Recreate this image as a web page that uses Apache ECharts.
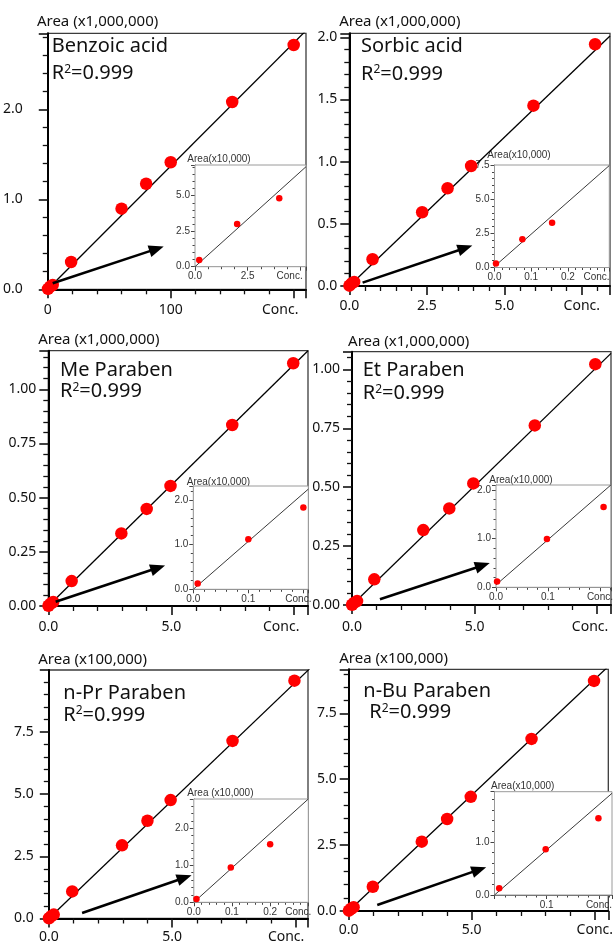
<!DOCTYPE html>
<html><head><meta charset="utf-8">
<script src="https://cdn.jsdelivr.net/npm/echarts@6/dist/echarts.min.js"></script>
<style>html,body{margin:0;padding:0;background:#fff}#c{width:616px;height:944px}</style>
</head><body><div id="c"></div>
<script>
// ---------------- DATA ----------------
const panelNames = ['Benzoic acid', 'Sorbic acid', 'Me Paraben', 'Et Paraben', 'n-Pr Paraben', 'n-Bu Paraben'];
const r2Values = ['0.999', '0.999', '0.999', '0.999', '0.999', '0.999'];
const mainYNames = ['Area (x1,000,000)', 'Area (x1,000,000)', 'Area (x1,000,000)', 'Area (x1,000,000)', 'Area (x100,000)', 'Area (x100,000)'];
const insetYNames = ['Area(x10,000)', 'Area(x10,000)', 'Area(x10,000)', 'Area(x10,000)', 'Area (x10,000)', 'Area(x10,000)'];
const lastXLabel = 'Conc.';

// main calibration points [conc, area]
const benzoicPoints = [[0.2,0.0047],[2,0.030],[4,0.048],[19,0.303],[60,0.896],[80,1.173],[100,1.411],[150,2.081],[200,2.714]];
const sorbicPoints = [[0.004,0.003],[0.076,0.0206],[0.157,0.0328],[0.75,0.215],[2.35,0.593],[3.17,0.786],[3.93,0.965],[5.94,1.450],[7.93,1.944]];
const meParabenPoints = [[0.008,0.0013],[0.1,0.0112],[0.2,0.0183],[0.95,0.115],[2.97,0.335],[4.0,0.448],[4.97,0.554],[7.48,0.835],[9.96,1.120]];
const etParabenPoints = [[0.002,0.0012],[0.098,0.0099],[0.207,0.0165],[0.91,0.109],[2.91,0.318],[3.97,0.410],[4.95,0.516],[7.46,0.762],[9.93,1.022]];
const prParabenPoints = [[0.007,0.009],[0.097,0.094],[0.2,0.157],[0.95,1.09],[2.97,2.94],[4.0,3.93],[4.94,4.76],[7.45,7.14],[9.96,9.56]];
const buParabenPoints = [[0.009,0.0125],[0.098,0.086],[0.199,0.144],[0.98,0.92],[2.97,2.63],[4.0,3.49],[4.96,4.33],[7.43,6.53],[9.97,8.73]];

// inset (low range) points [conc, area x10,000]
const benzoicInset = [[0.2,0.47],[2,3.0],[4,4.82]];
const sorbicInset = [[0.004,0.3],[0.076,2.06],[0.157,3.28]];
const meParabenInset = [[0.008,0.13],[0.1,1.12],[0.2,1.83]];
const etParabenInset = [[0.002,0.12],[0.098,0.99],[0.207,1.65]];
const prParabenInset = [[0.007,0.09],[0.097,0.94],[0.2,1.57]];
const buParabenInset = [[0.009,0.125],[0.098,0.86],[0.199,1.44]];

// regression lines (endpoints)
const mainFitLines = [[[0,0],[210,2.874]], [[0,0],[8.41,2.01]], [[0,0],[10.56,1.178]], [[0,0],[10.57,1.068]], [[0,0],[10.6,10.06]], [[0,0],[10.55,9.28]]];
const insetFitLines = [[[0,0],[5.27,7.04]], [[0,0.08],[0.313,7.46]], [[0,0],[0.209,2.24]], [[0,0.05],[0.221,2.1]], [[0,0],[0.3,2.79]], [[0,0],[0.225,1.91]]];

// pointer arrows [tail, head] in main-axis units
const arrowLines = [[[4.0,0.067],[88.5,0.449]], [[0.43,0.027],[3.74,0.306]], [[0.3,0.02],[4.46,0.176]], [[1.14,0.024],[5.33,0.168]], [[1.35,0.22],[5.5,1.64]], [[1.16,0.23],[5.3,1.57]]];

// axes
const mainXMax = [210, 8.41, 10.56, 10.57, 10.51, 10.55];
const mainYMax = [2.844, 2.032, 1.178, 1.075, 9.99, 9.17];
const mainXInterval = [100, 2.5, 5, 5, 5, 5];
const mainYInterval = [1, 0.5, 0.25, 0.25, 2.5, 2.5];
const mainXTicks = [[0,100,200],[0,2.5,5,7.5],[0,5,10],[0,5,10],[0,5,10],[0,5,10]];
const mainYTicks = [[0,1,2],[0,0.5,1,1.5,2],[0,0.25,0.5,0.75,1],[0,0.25,0.5,0.75,1],[0,2.5,5,7.5],[0,2.5,5,7.5]];
const mainXDigits = [0,1,1,1,1,1];
const mainYDigits = [1,1,2,2,1,1];

const insetXMax = [5.27, 0.313, 0.209, 0.221, 0.3, 0.225];
const insetYMax = [7.16, 7.5, 2.31, 2.1, 2.79, 1.94];
const insetXInterval = [2.5, 0.1, 0.1, 0.1, 0.1, 0.1];
const insetYInterval = [2.5, 2.5, 1, 1, 1, 1];
const insetXTicks = [[0,2.5,5],[0,0.1,0.2,0.3],[0,0.1,0.2],[0,0.1,0.2],[0,0.1,0.2,0.3],[0,0.1,0.2]];
const insetYTicks = [[0,2.5,5],[0,2.5,5,7.5],[0,1,2],[0,1,2],[0,1,2],[0,1]];
const insetXHidden = [[],[],[],[],[],[0]];

const mainSeriesData = [benzoicPoints, sorbicPoints, meParabenPoints, etParabenPoints, prParabenPoints, buParabenPoints];
const insetSeriesData = [benzoicInset, sorbicInset, meParabenInset, etParabenInset, prParabenInset, buParabenInset];

// ---------------- LAYOUT / STYLE ----------------
const MAIN_FONT = 'Noto Sans';
const INSET_FONT = 'Liberation Sans';
const mainGrid = [[45,33.3,261,256],[349.3,33.3,260.7,252.7],[48.3,350.7,259.7,255.3],[352,351.7,259,253.3],[48.8,670,259.2,248.7],[348.7,669.3,263.3,241.7]];
const insetGrid = [[195,165,111,101.7],[494.5,165,114.8,102.5],[193.3,486,115,103.3],[496,485,115,102.3],[193.8,799,114.5,103.3],[494.5,791.7,117.5,103.3]];
const mainYLabelMargin = [25,12,12,12,15,12];
const mainXLabelMargin = [14,13,14,15,11.5,12.5];
const mainConcShift = [13.5,0,13,7,9.3,0];
const insetConcShift = [10.7,8,5,0,10,0];
const mainNamePad = [99.6,101,101,113.4,87.6,89.8];
const mainNameGap = [4,4,3,2,3,2.8];
const insetNamePad = [48,49,50.2,49.8,53.2,56.4];
const insetNameGap = [1,2,-1,0,1,0];
const titlePos = [[51.7,46.7,51.7,73.3],[361,46.7,361,74],[60,370,60,391.7],[362.7,370,362.7,393.3],[63.3,693.3,63.3,715],[363.3,691.7,369.3,712.7]];
const RED = '#ff0000';

function near(a, b) { return Math.abs(a - b) < 1e-6 * Math.max(1, Math.abs(b)); }

function xAxisDef(o) {
  return {
    type: 'value', gridIndex: o.grid, min: 0, max: o.max, interval: o.interval,
    splitLine: { show: false },
    axisLine: { show: true, onZero: false, lineStyle: { color: o.lineColor, width: o.lineWidth } },
    axisTick: { show: true, length: o.tickLen, lineStyle: { color: o.tickColor, width: o.tickWidth } },
    minorTick: { show: true, splitNumber: o.minorSplit, length: o.minorLen, lineStyle: { color: o.tickColor, width: o.minorWidth } },
    axisLabel: {
      margin: o.margin, fontFamily: o.font, fontSize: o.fontSize, color: o.color,
      formatter: function (v) {
        if (o.hidden.some(h => near(v, h))) return '';
        if (!o.ticks.some(t => near(v, t))) return '';
        if (near(v, o.ticks[o.ticks.length - 1])) return '{c|' + lastXLabel + '}';
        return v.toFixed(o.digits);
      },
      rich: { c: { fontFamily: o.font, fontSize: o.fontSize, color: o.color, padding: [0, 2 * o.concShift, 0, 0] } }
    }
  };
}
function yAxisDef(o) {
  return {
    type: 'value', gridIndex: o.grid, min: 0, max: o.max, interval: o.interval,
    name: o.name, nameLocation: 'end', nameGap: o.nameGap,
    nameTextStyle: { fontFamily: o.font, fontSize: o.nameSize, color: o.color, align: 'center', padding: [0, 0, 0, o.namePad] },
    splitLine: { show: false },
    axisLine: { show: true, onZero: false, lineStyle: { color: o.lineColor, width: o.lineWidth } },
    axisTick: { show: true, length: o.tickLen, lineStyle: { color: o.tickColor, width: o.tickWidth } },
    minorTick: { show: true, splitNumber: o.minorSplit, length: o.minorLen, lineStyle: { color: o.tickColor, width: o.minorWidth } },
    axisLabel: {
      margin: o.margin, fontFamily: o.font, fontSize: o.fontSize, color: o.color,
      formatter: function (v) { return o.ticks.some(t => near(v, t)) ? v.toFixed(o.digits) : ''; }
    }
  };
}

const mainAxisStyle = { lineColor: '#000', lineWidth: 2, tickColor: '#111', tickWidth: 1.6, minorWidth: 1.3, tickLen: 9, minorLen: 5, font: MAIN_FONT, fontSize: 14, color: '#111' };
const insetAxisStyle = { lineColor: '#555', lineWidth: 1, tickColor: '#444', tickWidth: 1, minorWidth: 1, tickLen: 4, minorLen: 2.5, font: INSET_FONT, fontSize: 10, color: '#333' };

const option = { animation: false, backgroundColor: '#fff', textStyle: { fontFamily: MAIN_FONT }, grid: [], xAxis: [], yAxis: [], series: [], graphic: [] };

for (let i = 0; i < 6; i++) {
  const mg = mainGrid[i], ig = insetGrid[i];
  const mIdx = 2 * i, iIdx = 2 * i + 1;
  option.grid.push({ left: mg[0], top: mg[1], width: mg[2], height: mg[3], show: true, borderColor: '#3c3c3c', borderWidth: 1.3, backgroundColor: 'rgba(0,0,0,0)' });
  option.grid.push({ left: ig[0], top: ig[1], width: ig[2], height: ig[3], show: true, borderColor: '#9a9a9a', borderWidth: 1, backgroundColor: '#ffffff', z: 5 });

  option.xAxis.push(xAxisDef(Object.assign({ grid: mIdx, max: mainXMax[i], interval: mainXInterval[i], ticks: mainXTicks[i], digits: mainXDigits[i], hidden: [],
    minorSplit: 5, margin: mainXLabelMargin[i], concShift: mainConcShift[i] }, mainAxisStyle)));
  option.xAxis.push(xAxisDef(Object.assign({ grid: iIdx, max: insetXMax[i], interval: insetXInterval[i], ticks: insetXTicks[i], digits: 1, hidden: insetXHidden[i],
    minorSplit: i === 0 ? 4 : 5, margin: 5, concShift: insetConcShift[i] }, insetAxisStyle)));

  option.yAxis.push(yAxisDef(Object.assign({ grid: mIdx, max: mainYMax[i], interval: mainYInterval[i], ticks: mainYTicks[i], digits: mainYDigits[i],
    name: mainYNames[i], nameGap: mainNameGap[i], namePad: mainNamePad[i], nameSize: 15,
    minorSplit: 5, margin: mainYLabelMargin[i] }, mainAxisStyle)));
  option.yAxis.push(yAxisDef(Object.assign({ grid: iIdx, max: insetYMax[i], interval: insetYInterval[i], ticks: insetYTicks[i], digits: 1,
    name: insetYNames[i], nameGap: insetNameGap[i], namePad: insetNamePad[i], nameSize: 10,
    minorSplit: 5, margin: 5 }, insetAxisStyle)));

  option.series.push({ type: 'line', xAxisIndex: mIdx, yAxisIndex: mIdx, data: mainFitLines[i], showSymbol: false, symbol: 'none', clip: true, silent: true,
    lineStyle: { color: '#000', width: 1.3 }, z: 2 });
  option.series.push({ type: 'scatter', xAxisIndex: mIdx, yAxisIndex: mIdx, data: mainSeriesData[i], symbolSize: 12.5, clip: false, silent: true,
    itemStyle: { color: RED, opacity: 1 }, z: 3 });
  option.series.push({ type: 'line', xAxisIndex: mIdx, yAxisIndex: mIdx, data: [], silent: true, z: 4,
    markLine: { silent: true, animation: false, symbol: ['none', 'triangle'], symbolSize: [12, 15], label: { show: false },
      lineStyle: { color: '#000', width: 2.6, type: 'solid' }, emphasis: { disabled: true },
      data: [[{ coord: arrowLines[i][0] }, { coord: arrowLines[i][1] }]] } });
  option.series.push({ type: 'line', xAxisIndex: iIdx, yAxisIndex: iIdx, data: insetFitLines[i], showSymbol: false, symbol: 'none', clip: true, silent: true,
    lineStyle: { color: '#222', width: 0.9 }, z: 7 });
  option.series.push({ type: 'scatter', xAxisIndex: iIdx, yAxisIndex: iIdx, data: insetSeriesData[i], symbolSize: 6.5, clip: false, silent: true,
    itemStyle: { color: RED, opacity: 1 }, z: 8 });

  const tp = titlePos[i];
  option.graphic.push({ type: 'text', x: tp[0], y: tp[1], z: 10, silent: true,
    style: { text: panelNames[i], fontFamily: MAIN_FONT, fontSize: 20, fill: '#111', align: 'left', verticalAlign: 'middle' } });
  option.graphic.push({ type: 'text', x: tp[2], y: tp[3], z: 10, silent: true,
    style: { text: '{r|R}{s|2}{r|=' + r2Values[i] + '}', fontFamily: MAIN_FONT, fontSize: 20, fill: '#111', align: 'left', verticalAlign: 'middle',
      rich: { r: { fontFamily: MAIN_FONT, fontSize: 20, fill: '#111', color: '#111' }, s: { fontFamily: MAIN_FONT, fontSize: 12, fill: '#111', color: '#111', verticalAlign: 'top' } } } });
}

const chart = echarts.init(document.getElementById('c'), null, { renderer: 'canvas', width: 616, height: 944 });
chart.setOption(option);
</script>
</body></html>
